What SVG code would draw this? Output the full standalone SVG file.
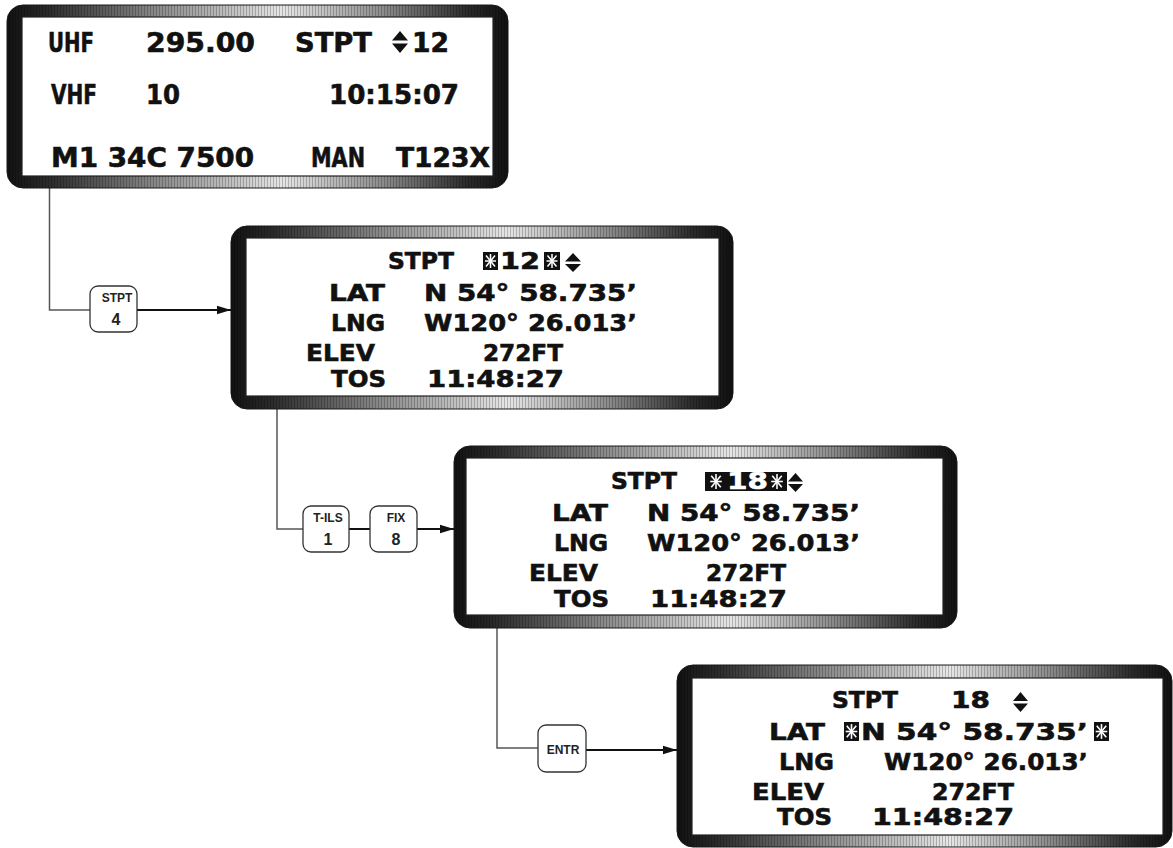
<svg xmlns="http://www.w3.org/2000/svg" width="1173" height="848" viewBox="0 0 1173 848">
<defs>
<linearGradient id="bz" x1="0" y1="0" x2="1" y2="0">
<stop offset="0" stop-color="#111"/>
<stop offset="0.08" stop-color="#2a2a2a"/>
<stop offset="0.3" stop-color="#8a8a8a"/>
<stop offset="0.55" stop-color="#e6e6e6"/>
<stop offset="0.75" stop-color="#8c8c8c"/>
<stop offset="0.92" stop-color="#2a2a2a"/>
<stop offset="1" stop-color="#111"/>
</linearGradient>
<pattern id="stripes" width="3" height="10" patternUnits="userSpaceOnUse">
<rect x="0" y="0" width="1" height="10" fill="#000" fill-opacity="0.22"/>
</pattern>
<symbol id="ast" viewBox="0 0 14 18">
<g stroke="#fff" stroke-width="1.5" fill="none">
<line x1="7" y1="2" x2="7" y2="16"/>
<line x1="1.5" y1="9" x2="12.5" y2="9"/>
<line x1="2.5" y1="3.5" x2="11.5" y2="14.5"/>
<line x1="11.5" y1="3.5" x2="2.5" y2="14.5"/>
</g>
</symbol>
<marker id="arr" markerWidth="14" markerHeight="10" refX="14" refY="5" orient="auto" markerUnits="userSpaceOnUse">
<path d="M0,0.8 L14,5 L0,9.2 Z" fill="#111"/>
</marker>
</defs>
<style>
.bezel{fill:url(#bz);stroke:#1a1a1a;stroke-width:1}
.strp{fill:url(#stripes)}
.screen{fill:#fff;stroke:#222;stroke-width:1.2}
.lcd{font-family:"DejaVu Sans","Liberation Sans",sans-serif;font-weight:bold;font-size:23.5px;fill:#111;stroke:#111;stroke-width:0.6}
.lcd1{font-size:26px}
.inv{fill:#fff;stroke:#fff}
.tri{fill:#111}
.box{fill:#111}
.feed{fill:none;stroke:#555;stroke-width:1.5}
.arrow{fill:none;stroke:#111;stroke-width:2}
.btn{fill:#fff;stroke:#333;stroke-width:1.3}
.bl{font-family:"Liberation Sans",Arial,sans-serif;font-weight:bold;font-size:12px;fill:#222;text-anchor:middle}
.bn{font-family:"Liberation Sans",Arial,sans-serif;font-weight:bold;font-size:16px;fill:#222;text-anchor:middle}
</style>

<g id="connectors">
<polyline class="feed" points="49.5,188 49.5,310 90,310"/>
<line class="arrow" x1="137" y1="310" x2="231" y2="310" marker-end="url(#arr)"/>
<polyline class="feed" points="277,409 277,529 303,529"/>
<line class="arrow" x1="349" y1="529" x2="370" y2="529"/>
<line class="arrow" x1="417" y1="529" x2="454" y2="529" marker-end="url(#arr)"/>
<polyline class="feed" points="497,628 497,748 538,748"/>
<line class="arrow" x1="586" y1="750" x2="677" y2="750" marker-end="url(#arr)"/>
</g>

<g id="btn-stpt">
<rect class="btn" x="90" y="286" width="47" height="46" rx="8"/>
<text class="bl" x="117" y="302">STPT</text>
<text class="bn" x="116" y="325">4</text>
</g>
<g id="btn-tils">
<rect class="btn" x="303" y="506" width="46" height="46" rx="8"/>
<text class="bl" x="328" y="522">T-ILS</text>
<text class="bn" x="328" y="545">1</text>
</g>
<g id="btn-fix">
<rect class="btn" x="370" y="506" width="47" height="46" rx="8"/>
<text class="bl" x="396" y="522">FIX</text>
<text class="bn" x="396" y="545">8</text>
</g>
<g id="btn-entr">
<rect class="btn" x="538" y="725" width="48" height="47" rx="8"/>
<text class="bl" x="563" y="754">ENTR</text>
</g>

<g id="display1">
<rect class="bezel" x="7" y="5" width="501" height="183" rx="16"/>
<rect class="strp" x="7" y="5" width="501" height="183" rx="16"/>
<rect class="screen" x="22" y="17" width="471" height="159"/>
<text class="lcd lcd1" x="48" y="52" textLength="46" lengthAdjust="spacingAndGlyphs">UHF</text>
<text class="lcd lcd1" x="146" y="52" textLength="109" lengthAdjust="spacingAndGlyphs">295.00</text>
<text class="lcd lcd1" x="295" y="52" textLength="77" lengthAdjust="spacingAndGlyphs">STPT</text>
<path class="tri" d="M400,31 L408,40.5 L392,40.5 Z M392,43.5 L408,43.5 L400,53 Z"/>
<text class="lcd lcd1" x="412" y="52" textLength="37" lengthAdjust="spacingAndGlyphs">12</text>
<text class="lcd lcd1" x="51" y="104" textLength="46" lengthAdjust="spacingAndGlyphs">VHF</text>
<text class="lcd lcd1" x="146" y="104" textLength="34" lengthAdjust="spacingAndGlyphs">10</text>
<text class="lcd lcd1" x="329" y="104" textLength="130" lengthAdjust="spacingAndGlyphs">10:15:07</text>
<text class="lcd lcd1" x="51" y="167" textLength="203" lengthAdjust="spacingAndGlyphs">M1 34C 7500</text>
<text class="lcd lcd1" x="311" y="167" textLength="54" lengthAdjust="spacingAndGlyphs">MAN</text>
<text class="lcd lcd1" x="396" y="167" textLength="94" lengthAdjust="spacingAndGlyphs">T123X</text>
</g>

<g id="display2">
<rect class="bezel" x="231" y="226" width="502" height="183" rx="16"/>
<rect class="strp" x="231" y="226" width="502" height="183" rx="16"/>
<rect class="screen" x="246" y="238" width="473" height="158"/>
<text class="lcd" x="388" y="269" textLength="66" lengthAdjust="spacingAndGlyphs">STPT</text>
<rect class="box" x="483" y="252" width="15" height="18"/>
<use href="#ast" x="483" y="252" width="15" height="18"/>
<text class="lcd" x="500" y="269" textLength="40" lengthAdjust="spacingAndGlyphs">12</text>
<rect class="box" x="544" y="252" width="16" height="18"/>
<use href="#ast" x="544" y="252" width="16" height="18"/>
<path class="tri" d="M573,253 L581,261.5 L565,261.5 Z M565,264 L581,264 L573,272 Z"/>
<text class="lcd" x="329" y="301" textLength="56" lengthAdjust="spacingAndGlyphs">LAT</text>
<text class="lcd" x="424" y="301" textLength="213" lengthAdjust="spacingAndGlyphs">N 54° 58.735’</text>
<text class="lcd" x="331" y="331" textLength="54" lengthAdjust="spacingAndGlyphs">LNG</text>
<text class="lcd" x="424" y="331" textLength="213" lengthAdjust="spacingAndGlyphs">W120° 26.013’</text>
<text class="lcd" x="306" y="361" textLength="69" lengthAdjust="spacingAndGlyphs">ELEV</text>
<text class="lcd" x="483" y="361" textLength="80" lengthAdjust="spacingAndGlyphs">272FT</text>
<text class="lcd" x="331" y="387" textLength="55" lengthAdjust="spacingAndGlyphs">TOS</text>
<text class="lcd" x="427" y="387" textLength="137" lengthAdjust="spacingAndGlyphs">11:48:27</text>
</g>

<g id="display3">
<rect class="bezel" x="454" y="446" width="503" height="182" rx="16"/>
<rect class="strp" x="454" y="446" width="503" height="182" rx="16"/>
<rect class="screen" x="466" y="458" width="477" height="157"/>
<text class="lcd" x="611" y="489" textLength="66" lengthAdjust="spacingAndGlyphs">STPT</text>
<rect class="box" x="705" y="472" width="82" height="19"/>
<use href="#ast" x="707" y="472" width="18" height="19"/>
<text class="lcd inv" x="727" y="489" textLength="41" lengthAdjust="spacingAndGlyphs">18</text>
<use href="#ast" x="768" y="472" width="18" height="19"/>
<path class="tri" d="M795.5,473 L803,481.5 L788,481.5 Z M788,484 L803,484 L795.5,492 Z"/>
<text class="lcd" x="552" y="521" textLength="56" lengthAdjust="spacingAndGlyphs">LAT</text>
<text class="lcd" x="647" y="521" textLength="213" lengthAdjust="spacingAndGlyphs">N 54° 58.735’</text>
<text class="lcd" x="554" y="551" textLength="54" lengthAdjust="spacingAndGlyphs">LNG</text>
<text class="lcd" x="647" y="551" textLength="213" lengthAdjust="spacingAndGlyphs">W120° 26.013’</text>
<text class="lcd" x="529" y="581" textLength="69" lengthAdjust="spacingAndGlyphs">ELEV</text>
<text class="lcd" x="706" y="581" textLength="80" lengthAdjust="spacingAndGlyphs">272FT</text>
<text class="lcd" x="554" y="607" textLength="55" lengthAdjust="spacingAndGlyphs">TOS</text>
<text class="lcd" x="650" y="607" textLength="137" lengthAdjust="spacingAndGlyphs">11:48:27</text>
</g>

<g id="display4">
<rect class="bezel" x="677" y="665" width="495" height="182" rx="16"/>
<rect class="strp" x="677" y="665" width="495" height="182" rx="16"/>
<rect class="screen" x="692" y="678" width="471" height="157"/>
<text class="lcd" x="832" y="708" textLength="66" lengthAdjust="spacingAndGlyphs">STPT</text>
<text class="lcd" x="951" y="708" textLength="39" lengthAdjust="spacingAndGlyphs">18</text>
<path class="tri" d="M1020.5,692 L1028,701 L1013,701 Z M1013,703.5 L1028,703.5 L1020.5,712 Z"/>
<text class="lcd" x="769" y="740" textLength="56" lengthAdjust="spacingAndGlyphs">LAT</text>
<rect class="box" x="844" y="722" width="15" height="19"/>
<use href="#ast" x="844" y="722" width="15" height="19"/>
<text class="lcd" x="861" y="740" textLength="227" lengthAdjust="spacingAndGlyphs">N 54° 58.735’</text>
<rect class="box" x="1094" y="722" width="15" height="19"/>
<use href="#ast" x="1094" y="722" width="15" height="19"/>
<text class="lcd" x="779" y="770" textLength="55" lengthAdjust="spacingAndGlyphs">LNG</text>
<text class="lcd" x="884" y="770" textLength="204" lengthAdjust="spacingAndGlyphs">W120° 26.013’</text>
<text class="lcd" x="752" y="800" textLength="72" lengthAdjust="spacingAndGlyphs">ELEV</text>
<text class="lcd" x="932" y="800" textLength="82" lengthAdjust="spacingAndGlyphs">272FT</text>
<text class="lcd" x="777" y="825" textLength="55" lengthAdjust="spacingAndGlyphs">TOS</text>
<text class="lcd" x="872" y="825" textLength="142" lengthAdjust="spacingAndGlyphs">11:48:27</text>
</g>
</svg>
